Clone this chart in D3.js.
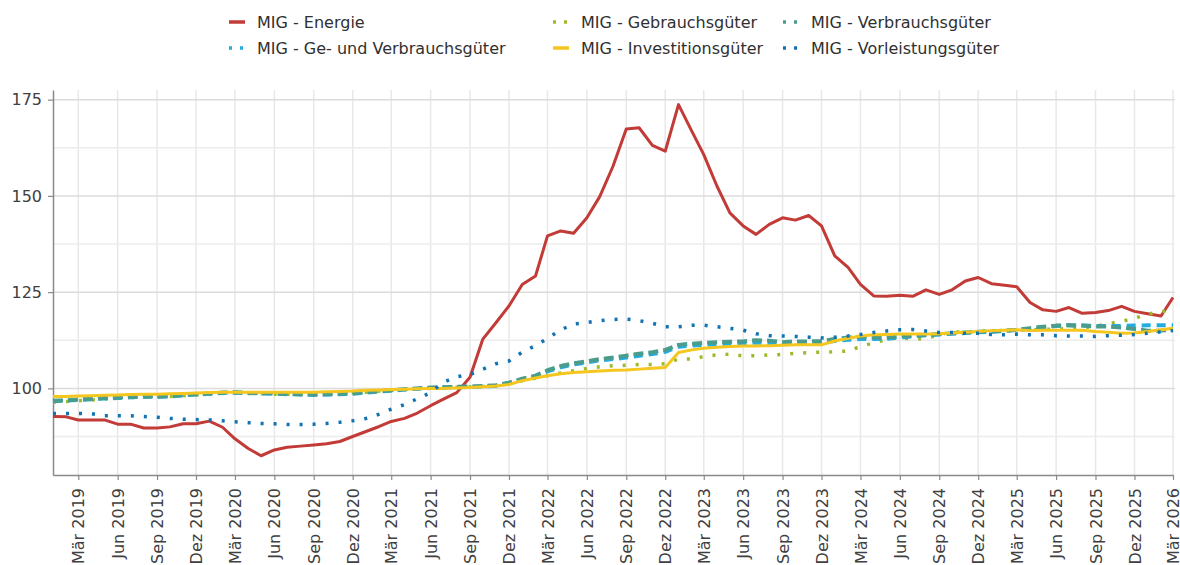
<!DOCTYPE html>
<html><head><meta charset="utf-8">
<script src="https://cdn.jsdelivr.net/npm/d3@7"></script>
<style>
body{margin:0;background:#fff;}
svg{font-family:"DejaVu Sans",sans-serif;}
</style></head>
<body><svg id="c" width="1180" height="565"></svg>
<script>
const monthNames = ["Jan","Feb","Mär","Apr","Mai","Jun","Jul","Aug","Sep","Okt","Nov","Dez"];
const startYear = 2019, nMonths = 87; // Jan 2019 .. Mär 2026
const months = d3.range(nMonths).map(i => new Date(startYear, i, 1));

const energie = [92.7,92.6,91.8,91.8,91.8,90.7,90.7,89.7,89.7,90.0,90.8,90.8,
 91.5,89.9,86.9,84.4,82.5,84.0,84.7,85.0,85.3,85.6,86.2,87.5,
 88.8,90.1,91.4,92.2,93.6,95.5,97.2,98.9,102.9,112.8,117.1,121.4,
 127.0,129.2,139.6,140.9,140.3,144.3,149.8,157.7,167.4,167.7,163.1,161.6,
 173.7,166.8,160.7,152.5,145.6,142.2,140.0,142.6,144.3,143.7,144.9,142.2,
 134.4,131.4,127.0,124.0,123.9,124.2,123.9,125.6,124.4,125.6,127.9,128.8,
 127.2,126.8,126.4,122.3,120.4,120.0,121.0,119.5,119.7,120.2,121.3,120.0,
 119.4,118.8,123.6];
const gebrauch = [96.4,96.6,96.8,97.0,97.2,97.4,97.6,97.7,97.8,97.9,98.1,98.3,
 98.5,98.7,98.8,98.7,98.6,98.5,98.5,98.4,98.4,98.5,98.6,98.8,
 99.0,99.3,99.5,99.7,99.9,100.1,100.2,100.3,100.4,100.5,100.7,101.2,
 102.0,102.6,103.3,104.0,104.6,105.2,105.6,105.9,106.0,106.2,106.2,106.4,
 107.6,107.6,108.3,108.7,108.9,108.4,108.5,108.7,108.8,109.1,109.3,109.4,
 109.5,109.7,110.9,111.8,112.7,113.2,112.7,113.0,113.9,114.7,114.6,114.8,
 114.9,115.0,115.1,115.2,115.3,115.4,115.5,115.6,116.2,116.8,117.4,118.2,
 119.3,119.9,120.3];
const verbrauch = [96.8,96.9,97.1,97.3,97.5,97.6,97.8,97.9,97.9,98.0,98.3,98.5,
 98.7,98.9,99.0,98.8,98.8,98.7,98.6,98.5,98.4,98.5,98.6,98.7,
 99.0,99.3,99.5,99.8,100.0,100.2,100.3,100.4,100.5,100.6,100.8,101.5,
 102.5,103.3,104.7,105.8,106.5,107.0,107.6,108.0,108.5,109.0,109.4,110.0,
 111.3,111.6,111.8,112.0,112.1,112.2,112.5,112.4,112.0,112.2,112.2,112.3,
 112.8,113.2,113.4,113.2,113.2,113.5,113.7,113.9,114.1,114.3,114.5,114.7,
 114.8,115.0,115.2,115.6,116.0,116.3,116.4,116.3,116.1,116.1,115.8,115.4,
 115.0,115.0,115.2];
const geUndVerbrauch = [96.7,96.8,97.0,97.2,97.4,97.5,97.7,97.8,97.8,97.9,98.2,98.4,
 98.6,98.8,98.9,98.8,98.7,98.6,98.5,98.4,98.3,98.4,98.5,98.6,
 98.9,99.2,99.4,99.7,99.9,100.1,100.2,100.3,100.4,100.5,100.7,101.4,
 102.3,103.1,104.4,105.5,106.2,106.7,107.3,107.6,108.0,108.5,108.9,109.5,
 110.8,111.1,111.3,111.5,111.6,111.7,111.9,111.8,111.6,111.8,111.8,111.9,
 112.3,112.6,112.8,112.8,112.9,113.2,113.5,113.8,114.0,114.2,114.4,114.6,
 114.7,114.9,115.2,115.5,115.9,116.2,116.4,116.3,116.2,116.2,116.2,116.3,
 116.4,116.4,116.4];
const investition = [97.9,97.9,98.0,98.1,98.2,98.3,98.4,98.5,98.5,98.6,98.7,98.8,
 98.9,99.0,99.0,99.0,99.0,99.0,99.0,99.0,99.0,99.1,99.2,99.3,
 99.5,99.6,99.7,99.8,99.9,100.0,100.0,100.1,100.2,100.4,100.6,101.0,
 102.0,102.7,103.3,103.8,104.1,104.3,104.5,104.7,104.8,105.0,105.2,105.4,
 109.3,110.0,110.4,110.7,110.9,111.0,111.0,111.1,111.2,111.3,111.3,111.3,
 112.3,113.0,113.6,113.9,114.0,114.1,114.1,114.1,114.2,114.4,114.6,114.8,
 115.0,115.1,115.2,115.0,115.1,115.1,115.1,115.1,114.8,114.6,114.3,114.4,
 114.8,115.2,115.6];
const vorleistung = [93.5,93.5,93.5,93.4,92.9,92.9,92.9,92.7,92.5,92.2,92.0,91.9,
 91.8,91.6,91.3,91.1,90.9,90.8,90.6,90.6,90.7,90.9,91.2,91.6,
 92.2,93.3,94.6,95.8,97.3,98.9,101.6,103.0,103.6,105.0,106.4,107.1,
 109.4,111.1,113.0,115.2,116.7,117.1,117.6,117.9,118.0,117.6,116.9,116.0,
 116.0,116.4,116.4,116.0,115.6,115.1,114.2,113.7,113.6,113.5,113.3,113.1,
 113.3,113.6,114.0,114.5,114.9,115.2,115.3,114.9,114.5,114.5,114.3,114.3,
 114.0,113.9,114.1,113.9,113.9,113.7,113.6,113.6,113.5,113.7,113.8,114.0,
 114.3,114.7,115.0];

const seriesNames = ["MIG - Energie","MIG - Gebrauchsgüter","MIG - Verbrauchsgüter",
  "MIG - Ge- und Verbrauchsgüter","MIG - Investitionsgüter","MIG - Vorleistungsgüter"];
const yTicks = [100,125,150,175];
const yMinorTicks = [87.5,112.5,137.5,162.5];

const styles = [
  {color:"#c23b36", dash:null, w:3},
  {color:"#9cbb2c", dash:"3,10", w:3.5},
  {color:"#4a9c8c", dash:"10,5", w:4},
  {color:"#22ace0", dash:"9,6", w:4},
  {color:"#f5c61e", dash:null, w:3},
  {color:"#1273b2", dash:"3,10", w:3.5}
];
const data = [energie,gebrauch,verbrauch,geUndVerbrauch,investition,vorleistung];

const svg = d3.select("#c");
const L=53, R=1173, T=90, B=475;
const x = d3.scaleTime().domain([months[0], months[nMonths-1]]).range([L,R]);
const y = d3.scaleLinear().domain([77.5,177.5]).range([B,T]);

const tickDates = months.filter((d,i)=> i%3===2);
const fmt = d => monthNames[d.getMonth()] + " " + d.getFullYear();

// grid
const g = svg.append("g");
g.selectAll(".vg").data(tickDates).join("line")
  .attr("x1",d=>x(d)).attr("x2",d=>x(d)).attr("y1",T).attr("y2",B)
  .attr("stroke","#e8e8e8").attr("stroke-width",1.5);
g.selectAll(".hm").data(yMinorTicks).join("line")
  .attr("x1",L).attr("x2",R+2).attr("y1",d=>y(d)).attr("y2",d=>y(d))
  .attr("stroke","#ececec").attr("stroke-width",1.5);
g.selectAll(".hM").data(yTicks).join("line")
  .attr("x1",L).attr("x2",R+2).attr("y1",d=>y(d)).attr("y2",d=>y(d))
  .attr("stroke","#dcdcdc").attr("stroke-width",1.5);

// axes
const xAxis = svg.append("g").attr("transform",`translate(0,${B})`)
  .call(d3.axisBottom(x).tickValues(tickDates).tickFormat(fmt).tickSize(5).tickSizeOuter(0));
xAxis.select(".domain").attr("stroke","#8a8a8a").attr("stroke-width",1.5);
xAxis.selectAll(".tick line").attr("stroke","#8a8a8a").attr("stroke-width",1.2);
xAxis.selectAll(".tick text")
  .attr("transform","rotate(-90)")
  .attr("text-anchor","end")
  .attr("x",-13).attr("y",0).attr("dy","0.35em")
  .attr("fill","#404040").style("font-size","16px").style("font-family","'DejaVu Sans', sans-serif");

const yAxis = svg.append("g").attr("transform",`translate(${L},0)`)
  .call(d3.axisLeft(y).tickValues(yTicks).tickSize(5).tickSizeOuter(0));
yAxis.select(".domain").attr("stroke","#8a8a8a").attr("stroke-width",1.5);
yAxis.selectAll(".tick line").attr("stroke","#8a8a8a").attr("stroke-width",1.2);
yAxis.selectAll(".tick text").attr("x",-11)
  .attr("fill","#404040").style("font-size","16px").style("font-family","'DejaVu Sans', sans-serif");

// lines (Ge- und Verbrauchsgüter beneath Verbrauchsgüter)
const line = d3.line().x((d,i)=>x(months[i])).y(d=>y(d));
[0,1,3,2,4,5].forEach(k=>{
  const s = styles[k];
  svg.append("path").datum(data[k])
    .attr("d",line).attr("fill","none")
    .attr("stroke",s.color).attr("stroke-width",s.w)
    .attr("stroke-dasharray",s.dash)
    .attr("stroke-linejoin","round");
});

// legend
const legPos = [[229,22],[553,22],[783,22],[229,48],[553,48],[783,48]];
seriesNames.forEach((n,k)=>{
  const [lx,ly] = legPos[k]; const s = styles[k];
  svg.append("line").attr("x1",lx).attr("x2",lx+16).attr("y1",ly).attr("y2",ly)
    .attr("stroke",s.color).attr("stroke-width",3.5)
    .attr("stroke-dasharray", s.dash ? "3,8" : null);
  svg.append("text").attr("x",lx+28).attr("y",ly).attr("dy","0.35em")
    .attr("fill","#303030").style("font-size","16px").text(n);
});
</script></body></html>
